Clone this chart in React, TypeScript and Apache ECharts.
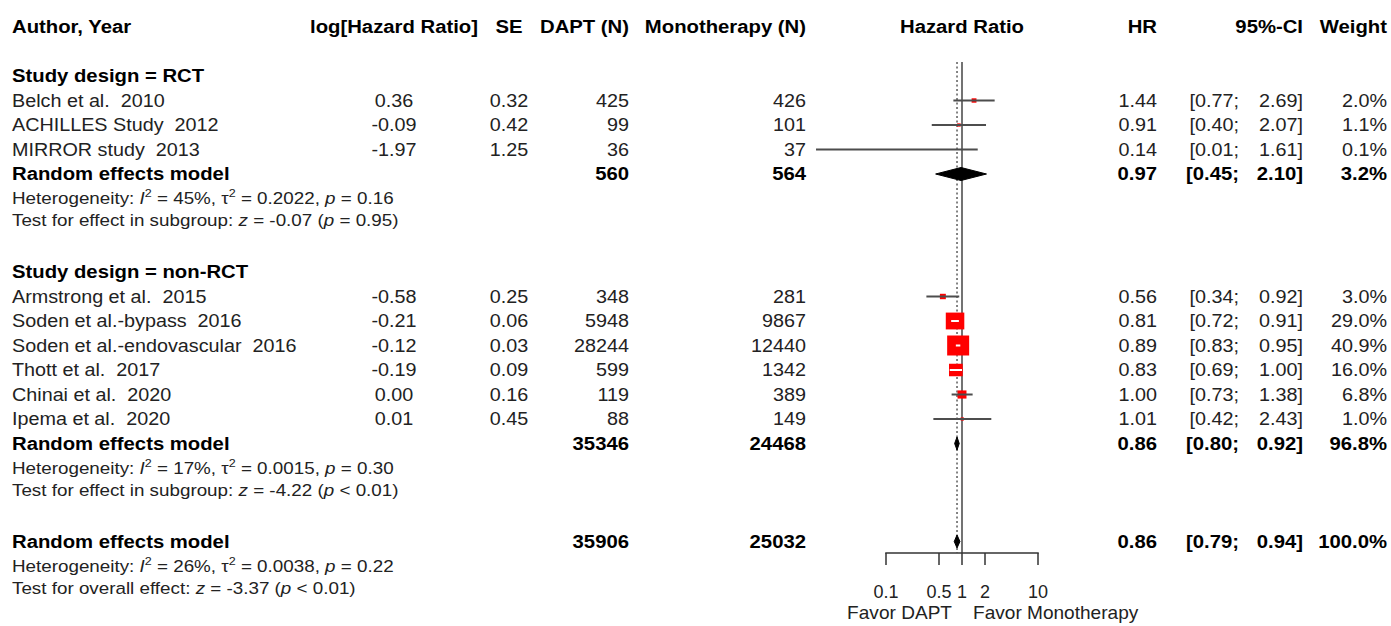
import React, { useEffect, useRef } from 'react';
import * as echarts from 'echarts';

// ---------------- data ----------------
const headerTexts = ['Author, Year', 'log[Hazard Ratio]', 'SE', 'DAPT (N)', 'Monotherapy (N)', 'Hazard Ratio', 'HR', '95%-CI', 'Weight'];
const groupTitles = ['Study design = RCT', 'Study design = non-RCT'];

const rctStudies = ['Belch et al.  2010', 'ACHILLES Study  2012', 'MIRROR study  2013'];
const rctLogHR = [0.36, -0.09, -1.97];
const rctSE = [0.32, 0.42, 1.25];
const rctDapt = [425, 99, 36];
const rctMono = [426, 101, 37];
const rctHR = [1.44, 0.91, 0.14];
const rctLow = [0.77, 0.40, 0.012];
const rctHigh = [2.69, 2.07, 1.61];
const rctWeight = [2.0, 1.1, 0.1];

const nonStudies = ['Armstrong et al.  2015', 'Soden et al.-bypass  2016', 'Soden et al.-endovascular  2016', 'Thott et al.  2017', 'Chinai et al.  2020', 'Ipema et al.  2020'];
const nonLogHR = [-0.58, -0.21, -0.12, -0.19, 0.00, 0.01];
const nonSE = [0.25, 0.06, 0.03, 0.09, 0.16, 0.45];
const nonDapt = [348, 5948, 28244, 599, 119, 88];
const nonMono = [281, 9867, 12440, 1342, 389, 149];
const nonHR = [0.56, 0.81, 0.89, 0.83, 1.00, 1.01];
const nonLow = [0.34, 0.72, 0.83, 0.69, 0.73, 0.42];
const nonHigh = [0.92, 0.91, 0.95, 1.00, 1.38, 2.43];
const nonWeight = [3.0, 29.0, 40.9, 16.0, 6.8, 1.0];

// pooled: RCT subgroup, non-RCT subgroup, overall
const pooledLabel = ['Random effects model', 'Random effects model', 'Random effects model'];
const pooledDapt = [560, 35346, 35906];
const pooledMono = [564, 24468, 25032];
const pooledHR = [0.97, 0.86, 0.86];
const pooledLow = [0.45, 0.80, 0.79];
const pooledHigh = [2.10, 0.92, 0.94];
const pooledWeight = [3.2, 96.8, 100.0];
const hetI2 = ['45%', '17%', '26%'];
const hetTau2 = ['0.2022', '0.0015', '0.0038'];
const hetP = ['= 0.16', '= 0.30', '= 0.22'];
const testLabel = ['Test for effect in subgroup', 'Test for effect in subgroup', 'Test for overall effect'];
const testZ = ['-0.07', '-4.22', '-3.37'];
const testP = ['= 0.95', '< 0.01', '< 0.01'];

const tickValues = [0.1, 0.5, 1, 2, 10];
const sideLabels = ['Favor DAPT', 'Favor Monotherapy'];

// ---------------- layout ----------------
const W = 1391;
const H = 626;
const FF = '"Liberation Sans", Arial, Helvetica, sans-serif';
const ROW_PX = 24.5;
const ROW0_Y = 76;
const Y_MIN = -ROW0_Y / ROW_PX;
const TABLE_Y_MAX = Y_MIN + H / ROW_PX;
const AXIS_Y = 553;
const FOREST_Y_MAX = Y_MIN + AXIS_Y / ROW_PX;
const X0 = 962; // pixel of HR = 1
const DEC = 76; // pixels per decade
const FL = 790;
const FW = 320;
const FX_MIN = (FL - X0) / DEC;
const FX_MAX = (FL + FW - X0) / DEC;

const HEADER_ROW = -2;
const GROUP_START = [0, 8];
const POOLED_ROWS = [4, 15, 19];
const REF_TOP_ROW = -0.57;
const SIDE_ROW = 21.92;

const COL_NAME = 12, COL_LOG = 394, COL_SE = 509, COL_DAPT = 629, COL_MONO = 806;
const COL_HR = 1157, COL_CIL = 1239, COL_CIR = 1303, COL_W = 1387, COL_PLOT = 962;
const headerX = [COL_NAME, COL_LOG, COL_SE, COL_DAPT, COL_MONO, COL_PLOT, COL_HR, COL_CIR, COL_W];
const headerAlign = ['left', 'center', 'center', 'right', 'right', 'center', 'right', 'right', 'right'];

const MAX_SQ = 20;
const SQ_STRETCH = 1.1;
const DIAMOND_HALF = 6.5;

type Cell = { x: number; row: number; text: string; align: string; kind: string };

const RICH = {
  n: { fontSize: 16.5, fontFamily: FF, fill: '#222', lineHeight: 22 },
  i: { fontSize: 16.5, fontFamily: FF, fontStyle: 'italic', fill: '#222', lineHeight: 22 },
  s: { fontSize: 11, fontFamily: FF, fill: '#222', lineHeight: 12, verticalAlign: 'top' },
};

function buildOption() {
  const cells: Cell[] = [];
  const marks: { row: number; hr: number; low: number; high: number; w: number }[] = [];
  const diamonds: { row: number; hr: number; low: number; high: number }[] = [];
  const add = (x: number, row: number, text: string, align: string, kind = 'reg') =>
    cells.push({ x, row, text, align, kind });

  headerTexts.forEach((t, i) => add(headerX[i], HEADER_ROW, t, headerAlign[i], 'bold'));

  const groups = [
    { names: rctStudies, lg: rctLogHR, se: rctSE, d: rctDapt, m: rctMono, hr: rctHR, lo: rctLow, hi: rctHigh, w: rctWeight },
    { names: nonStudies, lg: nonLogHR, se: nonSE, d: nonDapt, m: nonMono, hr: nonHR, lo: nonLow, hi: nonHigh, w: nonWeight },
  ];
  groups.forEach((g, gi) => {
    const start = GROUP_START[gi];
    add(COL_NAME, start, groupTitles[gi], 'left', 'bold');
    g.names.forEach((n, j) => {
      const r = start + 1 + j;
      add(COL_NAME, r, n, 'left');
      add(COL_LOG, r, g.lg[j].toFixed(2), 'center');
      add(COL_SE, r, g.se[j].toFixed(2), 'center');
      add(COL_DAPT, r, String(g.d[j]), 'right');
      add(COL_MONO, r, String(g.m[j]), 'right');
      add(COL_HR, r, g.hr[j].toFixed(2), 'right');
      add(COL_CIL, r, '[' + g.lo[j].toFixed(2) + ';', 'right');
      add(COL_CIR, r, g.hi[j].toFixed(2) + ']', 'right');
      add(COL_W, r, g.w[j].toFixed(1) + '%', 'right');
      marks.push({ row: r, hr: g.hr[j], low: g.lo[j], high: g.hi[j], w: g.w[j] });
    });
  });

  POOLED_ROWS.forEach((r, k) => {
    add(COL_NAME, r, pooledLabel[k], 'left', 'bold');
    add(COL_DAPT, r, String(pooledDapt[k]), 'right', 'bold');
    add(COL_MONO, r, String(pooledMono[k]), 'right', 'bold');
    add(COL_HR, r, pooledHR[k].toFixed(2), 'right', 'bold');
    add(COL_CIL, r, '[' + pooledLow[k].toFixed(2) + ';', 'right', 'bold');
    add(COL_CIR, r, pooledHigh[k].toFixed(2) + ']', 'right', 'bold');
    add(COL_W, r, pooledWeight[k].toFixed(1) + '%', 'right', 'bold');
    add(COL_NAME, r + 1,
      `{n|Heterogeneity: }{i|I}{s|2}{n| = ${hetI2[k]}, τ}{s|2}{n| = ${hetTau2[k]}, }{i|p}{n| ${hetP[k]}}`,
      'left', 'rich');
    add(COL_NAME, r + 1.9,
      `{n|${testLabel[k]}: }{i|z}{n| = ${testZ[k]} (}{i|p}{n| ${testP[k]})}`,
      'left', 'rich');
    diamonds.push({ row: r, hr: pooledHR[k], low: pooledLow[k], high: pooledHigh[k] });
  });

  add(X0 - 10, SIDE_ROW, sideLabels[0], 'right', 'side');
  add(X0 + 11, SIDE_ROW, sideLabels[1], 'left', 'side');

  const maxW = Math.max(...rctWeight, ...nonWeight);
  const tickLogs = tickValues.map((v) => Math.log10(v));
  const tickLabels = tickValues.map((v) => String(v));

  return {
    animation: false,
    backgroundColor: '#ffffff',
    grid: [
      { left: 0, top: 0, width: W, height: H },
      { left: FL, top: 0, width: FW, height: AXIS_Y },
    ],
    xAxis: [
      { gridIndex: 0, type: 'value', min: 0, max: W, show: false },
      {
        gridIndex: 1, type: 'value', min: FX_MIN, max: FX_MAX, position: 'bottom',
        axisLine: { show: false, onZero: false },
        splitLine: { show: false },
        axisTick: { show: true, customValues: tickLogs, length: 12, lineStyle: { color: '#333', width: 1.5 } },
        axisLabel: {
          customValues: tickLogs, margin: 30, fontSize: 18, color: '#222', fontFamily: FF,
          formatter: (v: number) => {
            const i = tickLogs.findIndex((t) => Math.abs(t - v) < 1e-6);
            return i >= 0 ? tickLabels[i] : '';
          },
        },
      },
    ],
    yAxis: [
      { gridIndex: 0, type: 'value', min: Y_MIN, max: TABLE_Y_MAX, inverse: true, show: false },
      { gridIndex: 1, type: 'value', min: Y_MIN, max: FOREST_Y_MAX, inverse: true, show: false },
    ],
    series: [
      {
        type: 'custom', name: 'refLines', xAxisIndex: 1, yAxisIndex: 1, z: 1,
        data: [[0, REF_TOP_ROW, 0], [Math.log10(pooledHR[2]), REF_TOP_ROW, 1]],
        renderItem: (params: any, api: any) => {
          const dotted = api.value(2) === 1;
          const a = api.coord([api.value(0), api.value(1)]);
          const b = api.coord([api.value(0), FOREST_Y_MAX]);
          return {
            type: 'line',
            shape: { x1: a[0], y1: a[1], x2: b[0], y2: b[1] },
            style: dotted
              ? { stroke: '#666', lineWidth: 1.6, lineDash: [2, 2.5] }
              : { stroke: '#444', lineWidth: 1.5 },
          };
        },
      },
      {
        type: 'custom', name: 'axisLine', xAxisIndex: 1, yAxisIndex: 1, z: 2,
        data: [[tickLogs[0], tickLogs[tickLogs.length - 1]]],
        renderItem: (params: any, api: any) => {
          const a = api.coord([api.value(0), FOREST_Y_MAX]);
          const b = api.coord([api.value(1), FOREST_Y_MAX]);
          return {
            type: 'line',
            shape: { x1: a[0] - 0.75, y1: a[1], x2: b[0] + 0.75, y2: b[1] },
            style: { stroke: '#333', lineWidth: 1.5 },
          };
        },
      },
      {
        type: 'custom', name: 'studies', xAxisIndex: 1, yAxisIndex: 1, z: 3,
        data: marks.map((m) => [Math.log10(m.hr), m.row]),
        renderItem: (params: any, api: any) => {
          const m = marks[params.dataIndex];
          const c = api.coord([Math.log10(m.hr), m.row]);
          const lo = api.coord([Math.log10(m.low), m.row]);
          const hi = api.coord([Math.log10(m.high), m.row]);
          const h = MAX_SQ * Math.sqrt(m.w / maxW);
          const w = h * SQ_STRETCH;
          const inside = lo[0] >= c[0] - w / 2 && hi[0] <= c[0] + w / 2;
          return {
            type: 'group',
            children: [
              { type: 'rect', shape: { x: c[0] - w / 2, y: c[1] - h / 2, width: w, height: h }, style: { fill: '#ff0000' } },
              {
                type: 'line',
                shape: { x1: lo[0], y1: lo[1], x2: hi[0], y2: hi[1] },
                style: { stroke: inside ? '#ffffff' : '#4d4d4d', lineWidth: 2 },
              },
            ],
          };
        },
      },
      {
        type: 'custom', name: 'pooled', xAxisIndex: 1, yAxisIndex: 1, z: 3,
        data: diamonds.map((d) => [Math.log10(d.hr), d.row]),
        renderItem: (params: any, api: any) => {
          const d = diamonds[params.dataIndex];
          const c = api.coord([Math.log10(d.hr), d.row]);
          const lo = api.coord([Math.log10(d.low), d.row]);
          const hi = api.coord([Math.log10(d.high), d.row]);
          return {
            type: 'polygon',
            shape: { points: [[lo[0], c[1]], [c[0], c[1] - DIAMOND_HALF], [hi[0], c[1]], [c[0], c[1] + DIAMOND_HALF]] },
            style: { fill: '#000000', stroke: '#000000', lineWidth: 1 },
          };
        },
      },
      {
        type: 'custom', name: 'table', xAxisIndex: 0, yAxisIndex: 0, z: 4,
        data: cells.map((c, i) => [c.x, c.row, i]),
        renderItem: (params: any, api: any) => {
          const c = cells[params.dataIndex];
          const p = api.coord([c.x, c.row]);
          const bold = c.kind === 'bold';
          const style: any = {
            text: c.text,
            fill: bold ? '#000000' : '#222222',
            fontSize: c.kind === 'side' ? 18 : 17.5,
            fontFamily: FF,
            fontWeight: bold ? 'bold' : 'normal',
            align: c.align,
            textAlign: c.align,
            verticalAlign: 'middle',
            textVerticalAlign: 'middle',
          };
          if (c.kind === 'rich') style.rich = RICH;
          const sx = bold ? 1.16 : c.kind === 'side' ? 1.06 : c.kind === 'rich' ? 1.14 : 1.13;
          return { type: 'text', x: p[0], y: p[1], scaleX: sx, style };
        },
      },
    ],
  };
}

export default function App() {
  const ref = useRef<HTMLDivElement>(null);
  useEffect(() => {
    if (!ref.current) return;
    const chart = echarts.init(ref.current, null, { renderer: 'svg' });
    chart.setOption(buildOption() as any);
    return () => chart.dispose();
  }, []);
  return (
    <div
      ref={ref}
      style={{ position: 'fixed', left: 0, top: 0, width: W, height: H, background: '#fff' }}
    />
  );
}
